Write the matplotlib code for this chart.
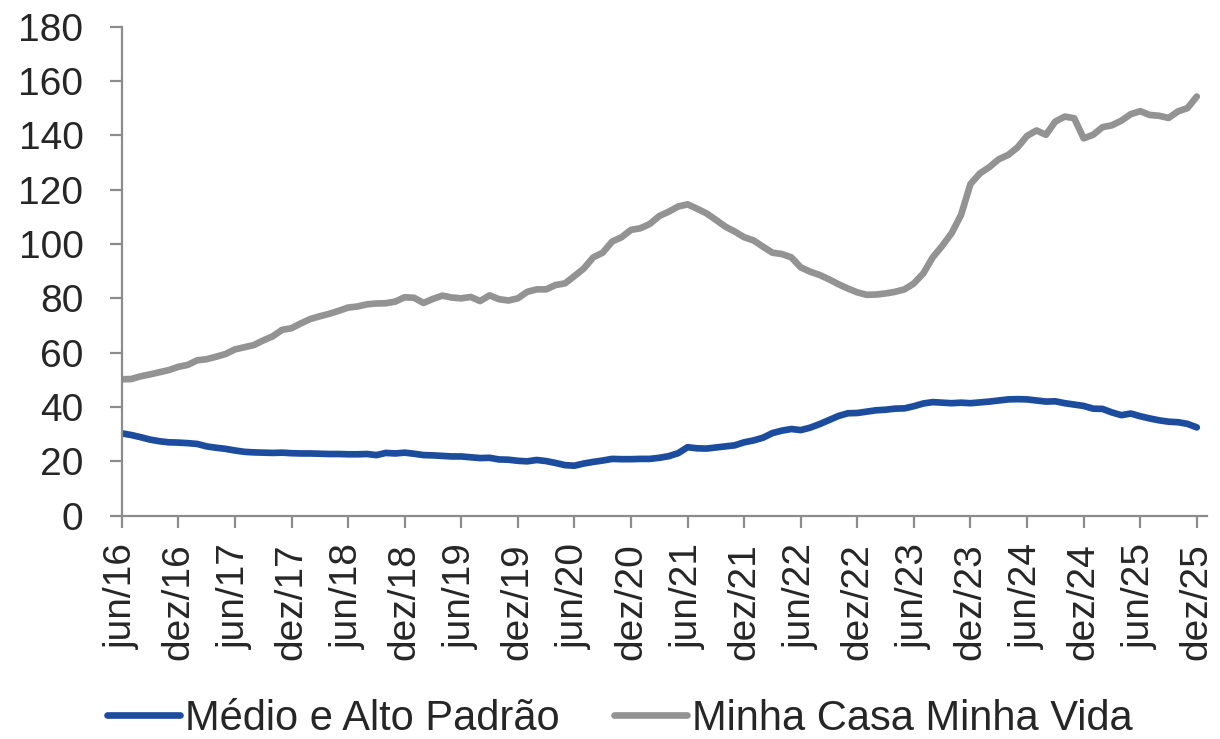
import matplotlib
matplotlib.use("Agg")
import matplotlib.pyplot as plt
import numpy as np

# monthly series, jun/16 .. dez/25
medio_alto = [
    30.3, 29.7, 28.9, 28.0, 27.4, 27.0, 26.9, 26.7, 26.4, 25.5,
    25.0, 24.6, 24.0, 23.5, 23.3, 23.2, 23.1, 23.2, 23.0, 22.9,
    22.9, 22.8, 22.7, 22.7, 22.6, 22.6, 22.7, 22.3, 23.1, 22.9,
    23.2, 22.8, 22.3, 22.2, 22.0, 21.8, 21.8, 21.5, 21.2, 21.3,
    20.7, 20.6, 20.2, 20.0, 20.5, 20.1, 19.4, 18.6, 18.4, 19.2,
    19.8, 20.3, 20.9, 20.8, 20.8, 20.9, 20.9, 21.3, 21.9, 23.0,
    25.2, 24.8, 24.7, 25.1, 25.5, 25.9, 27.0, 27.7, 28.7, 30.4,
    31.3, 31.9, 31.5, 32.4, 33.7, 35.2, 36.7, 37.7, 37.8, 38.3,
    38.8, 39.0, 39.4, 39.5, 40.3, 41.3, 41.8, 41.6, 41.4, 41.6,
    41.4, 41.7, 42.0, 42.4, 42.8, 42.9, 42.8, 42.4, 42.0, 42.1,
    41.4, 40.9, 40.4, 39.4, 39.3, 38.0, 37.0, 37.6, 36.6, 35.8,
    35.1, 34.6, 34.4, 33.8, 32.5]

mcmv = [
    50.2, 50.3, 51.3, 52.0, 52.8, 53.6, 54.8, 55.5, 57.2, 57.6,
    58.5, 59.5, 61.2, 62.0, 62.8, 64.5, 66.0, 68.4, 69.0, 70.8,
    72.4, 73.4, 74.3, 75.4, 76.6, 77.0, 77.8, 78.1, 78.2, 78.8,
    80.4, 80.2, 78.3, 79.8, 81.0, 80.3, 80.0, 80.5, 79.0, 81.1,
    79.7, 79.2, 80.0, 82.4, 83.3, 83.3, 84.9, 85.5, 88.2, 91.0,
    95.1, 96.8, 100.9, 102.5, 105.2, 105.8, 107.4, 110.3, 111.9, 113.8,
    114.6, 113.0, 111.3, 108.9, 106.4, 104.6, 102.5, 101.3, 99.0, 96.8,
    96.3, 95.1, 91.4, 89.8, 88.6, 87.0, 85.2, 83.6, 82.2, 81.3,
    81.4, 81.8, 82.4, 83.3, 85.5, 89.2, 95.1, 99.3, 104.0, 110.7,
    122.1, 126.0, 128.3, 131.2, 132.8, 135.6, 139.8, 141.8, 140.2, 145.1,
    146.9, 146.3, 138.9, 140.2, 143.0, 143.7, 145.4, 147.8, 148.9, 147.5,
    147.2, 146.4, 148.8, 150.0, 154.3]

tick_labels = ['jun/16', 'dez/16', 'jun/17', 'dez/17', 'jun/18', 'dez/18',
               'jun/19', 'dez/19', 'jun/20', 'dez/20', 'jun/21', 'dez/21',
               'jun/22', 'dez/22', 'jun/23', 'dez/23', 'jun/24', 'dez/24',
               'jun/25', 'dez/25']

plt.rcParams['font.family'] = ['Liberation Sans', 'DejaVu Sans']

azul = '#1c4c9e'
cinza = '#939393'
eixo = '#8c8c8c'
texto = '#262626'

fig = plt.figure(figsize=(12.2, 7.39), dpi=100)
ax = fig.add_axes([0.0998, 0.3022, 0.8897, 0.6617])

t = np.arange(len(medio_alto))
ax.plot(t, medio_alto, color=azul, lw=4.8, solid_capstyle='round', label='Médio e Alto Padrão')
ax.plot(t, mcmv, color=cinza, lw=4.8, solid_capstyle='round', label='Minha Casa Minha Vida')

ax.set_xlim(0, 115.1)
ax.set_ylim(0, 180)
ax.set_yticks(np.arange(0, 181, 20))
ax.set_xticks(np.arange(0, len(medio_alto), 6))
ax.set_xticklabels(tick_labels, rotation=90)

for s in ['top', 'right']:
    ax.spines[s].set_visible(False)
for s in ['left', 'bottom']:
    ax.spines[s].set_color(eixo)
    ax.spines[s].set_linewidth(1.6)

ax.tick_params(axis='y', length=8.6, width=1.6, color=eixo, labelsize=28,
               labelcolor=texto, pad=19)
ax.tick_params(axis='x', length=8.6, width=1.6, color=eixo, labelsize=28,
               labelcolor=texto, pad=11)

fig.legend(loc='center left', bbox_to_anchor=(0.088, 0.027), ncol=2, frameon=False,
           fontsize=30, handlelength=1.75, handletextpad=0.12, columnspacing=1.3,
           borderpad=0, borderaxespad=0, labelcolor=texto)

fig.savefig('out.png', dpi=100)
